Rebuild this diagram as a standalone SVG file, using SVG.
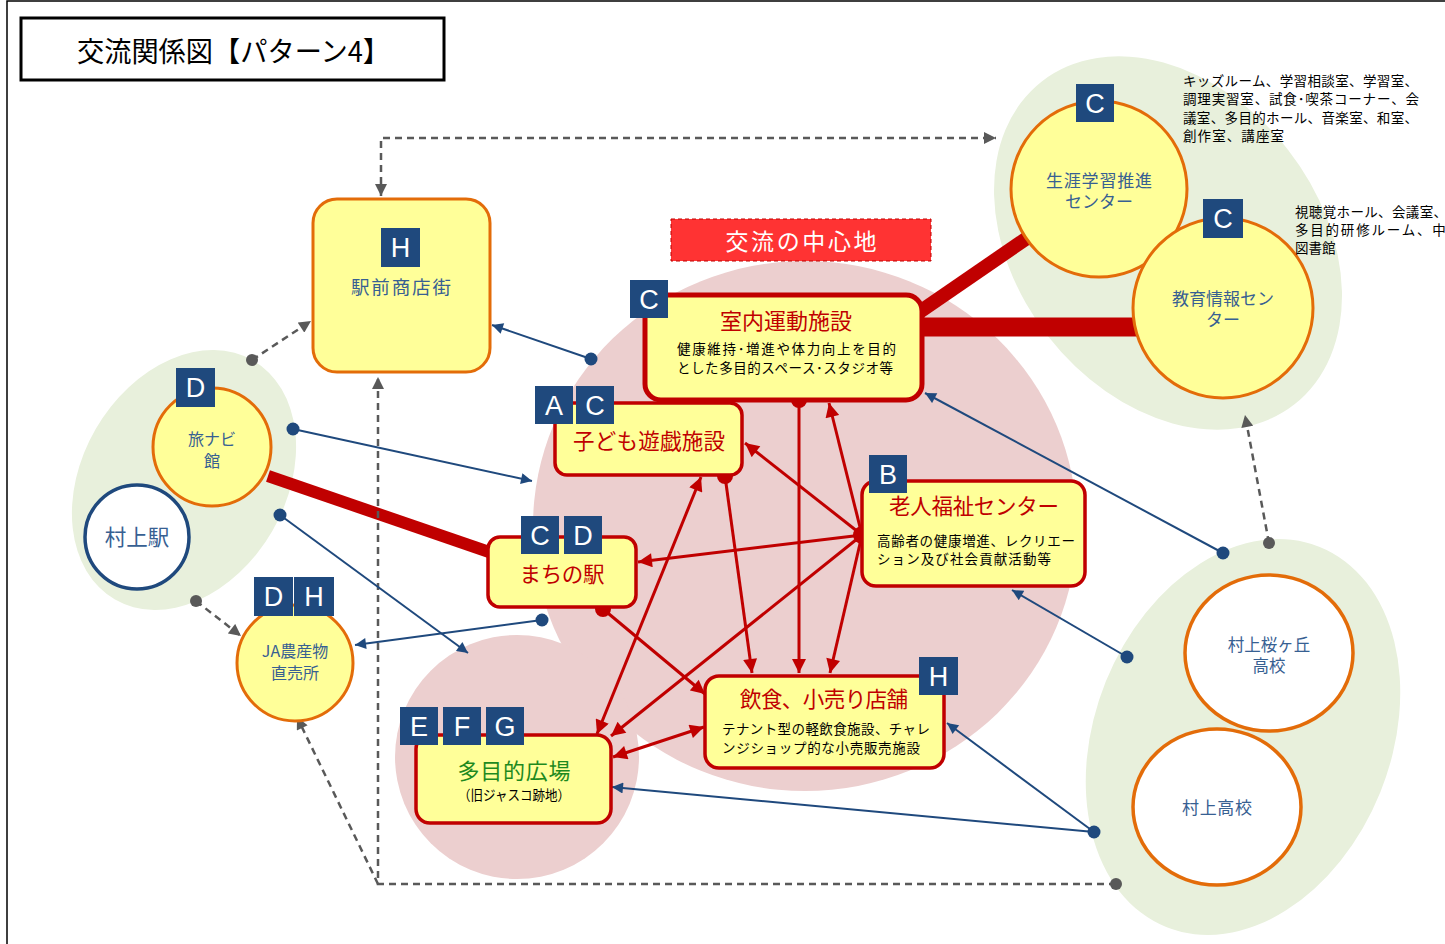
<svg xmlns="http://www.w3.org/2000/svg" width="1445" height="944" viewBox="0 0 1445 944">
<defs>
<style>
.jp{font-family:"Noto Sans CJK JP","Noto Sans",sans-serif}
.badge rect{fill:#1F497D}
.badge text{fill:#fff;font-family:"Liberation Sans",Arial,sans-serif;font-size:27px;text-anchor:middle}
.box{fill:#FFFF99;stroke:#C00000;stroke-width:3.5}
.obox{fill:#FFFF99;stroke:#E36C09;stroke-width:3}
.ycirc{fill:#FFFF99;stroke:#E36C09;stroke-width:3}
.wcirc{fill:#fff;stroke:#E36C09;stroke-width:3.5}
.rt{fill:#C00000;font-size:21.5px;text-anchor:middle}
.sub{fill:#000;font-size:13.5px}
.bt{fill:#376092;font-size:17px;text-anchor:middle}
.side{fill:#000;font-size:13.5px}
.red{stroke:#C00000;stroke-width:3;fill:none}
.blue{stroke:#1F497D;stroke-width:2;fill:none}
.gray{stroke:#595959;stroke-width:2.5;fill:none;stroke-dasharray:7 5}
.thick{stroke:#C00000;fill:none}
</style>
<marker id="ar" viewBox="0 0 10 10" refX="10" refY="5" markerWidth="15" markerHeight="14" markerUnits="userSpaceOnUse" orient="auto"><path d="M0,0 L10,5 L0,10 z" fill="#C00000"/></marker>
<marker id="ars" viewBox="0 0 10 10" refX="0" refY="5" markerWidth="15" markerHeight="14" markerUnits="userSpaceOnUse" orient="auto"><path d="M10,0 L0,5 L10,10 z" fill="#C00000"/></marker>
<marker id="ab" viewBox="0 0 10 10" refX="10" refY="5" markerWidth="13" markerHeight="11" markerUnits="userSpaceOnUse" orient="auto"><path d="M0,0 L10,5 L0,10 z" fill="#1F497D"/></marker>
<marker id="ag" viewBox="0 0 10 10" refX="10" refY="5" markerWidth="13" markerHeight="12" markerUnits="userSpaceOnUse" orient="auto"><path d="M0,0 L10,5 L0,10 z" fill="#595959"/></marker>
<marker id="ags" viewBox="0 0 10 10" refX="0" refY="5" markerWidth="13" markerHeight="12" markerUnits="userSpaceOnUse" orient="auto"><path d="M10,0 L0,5 L10,10 z" fill="#595959"/></marker>
</defs>

<rect x="0" y="0" width="1445" height="944" fill="#fff"/>
<rect x="7" y="1" width="1460" height="960" fill="none" stroke="#000" stroke-width="1.5"/>

<!-- background areas -->
<g id="areas">
<ellipse cx="805" cy="526" rx="272" ry="265" fill="#ECCFCF"/>
<circle cx="517" cy="757" r="122" fill="#ECCFCF"/>
<ellipse cx="184" cy="480" rx="102" ry="138" transform="rotate(30 184 480)" fill="#E8F0DC"/>
<ellipse cx="1168" cy="243" rx="152" ry="205" transform="rotate(-38 1168 243)" fill="#E8F0DC"/>
<ellipse cx="1243" cy="737" rx="148" ry="205" transform="rotate(22 1243 737)" fill="#E8F0DC"/>
</g>

<!-- title -->
<g id="title">
<rect x="21" y="18" width="423" height="62" fill="#fff" stroke="#000" stroke-width="3"/>
<text class="jp" x="77" y="62" font-size="28" textLength="313" lengthAdjust="spacingAndGlyphs" fill="#000">交流関係図【パターン4】</text>
</g>

<g id="center-label">
<rect x="671" y="219" width="260" height="42" fill="#FF3333" stroke="#C00000" stroke-width="1" stroke-dasharray="4 3"/>
<text class="jp" x="801" y="250" font-size="23" fill="#fff" text-anchor="middle" textLength="151" lengthAdjust="spacing">交流の中心地</text>
</g>

<!-- connectors -->
<g id="connectors">
<line class="thick" x1="268" y1="476" x2="492" y2="553" stroke-width="12"/>
<line class="thick" x1="918" y1="313" x2="1030" y2="236" stroke-width="14"/>
<line class="thick" x1="920" y1="327" x2="1138" y2="327" stroke-width="19"/>

<polyline class="gray" points="381,196 381,138 996,138" marker-start="url(#ags)" marker-end="url(#ag)"/>
<line class="gray" x1="252" y1="360" x2="311" y2="321" marker-end="url(#ag)"/>
<circle cx="252" cy="360" r="6" fill="#595959"/>
<line class="gray" x1="196" y1="601" x2="241" y2="636" marker-end="url(#ag)"/>
<circle cx="196" cy="601" r="6" fill="#595959"/>
<line class="gray" x1="1269" y1="543" x2="1245" y2="415" marker-end="url(#ag)"/>
<circle cx="1269" cy="543" r="6" fill="#595959"/>
<polyline class="gray" points="1116,884 378,884 378,377" marker-end="url(#ag)"/>
<line class="gray" x1="378" y1="884" x2="297" y2="717" marker-end="url(#ag)"/>
<circle cx="1116" cy="884" r="6" fill="#595959"/>

<line class="blue" x1="591" y1="359" x2="492" y2="325" marker-end="url(#ab)"/>
<circle cx="591" cy="359" r="6.5" fill="#1F497D"/>
<line class="blue" x1="293" y1="429" x2="532" y2="481" marker-end="url(#ab)"/>
<circle cx="293" cy="429" r="6.5" fill="#1F497D"/>
<line class="blue" x1="280" y1="515" x2="468" y2="653" marker-end="url(#ab)"/>
<circle cx="280" cy="515" r="6.5" fill="#1F497D"/>
<line class="blue" x1="542" y1="620" x2="355" y2="645" marker-end="url(#ab)"/>
<circle cx="542" cy="620" r="6.5" fill="#1F497D"/>
<line class="blue" x1="1223" y1="553" x2="925" y2="393" marker-end="url(#ab)"/>
<circle cx="1223" cy="553" r="6.5" fill="#1F497D"/>
<line class="blue" x1="1127" y1="657" x2="1012" y2="590" marker-end="url(#ab)"/>
<circle cx="1127" cy="657" r="6.5" fill="#1F497D"/>
<line class="blue" x1="1094" y1="832" x2="947" y2="723" marker-end="url(#ab)"/>
<line class="blue" x1="1094" y1="832" x2="612" y2="787" marker-end="url(#ab)"/>
<circle cx="1094" cy="832" r="6.5" fill="#1F497D"/>

<line class="red" x1="799" y1="400" x2="799" y2="673" marker-end="url(#ar)"/>
<circle cx="799" cy="400" r="8" fill="#C00000"/>
<line class="red" x1="725" y1="476" x2="752" y2="673" marker-end="url(#ar)"/>
<line class="red" x1="701" y1="477" x2="597" y2="734" marker-start="url(#ars)" marker-end="url(#ar)"/>
<circle cx="725" cy="476" r="8" fill="#C00000"/>
<line class="red" x1="862" y1="535" x2="829" y2="403" marker-end="url(#ar)"/>
<line class="red" x1="862" y1="535" x2="745" y2="443" marker-end="url(#ar)"/>
<line class="red" x1="862" y1="535" x2="638" y2="562" marker-end="url(#ar)"/>
<line class="red" x1="862" y1="535" x2="830" y2="673" marker-end="url(#ar)"/>
<line class="red" x1="862" y1="535" x2="611" y2="736" marker-end="url(#ar)"/>
<circle cx="862" cy="535" r="9" fill="#C00000"/>
<line class="red" x1="603" y1="609" x2="705" y2="694" marker-end="url(#ar)"/>
<circle cx="603" cy="609" r="8" fill="#C00000"/>
<line class="red" x1="613" y1="757" x2="704" y2="727" marker-start="url(#ars)" marker-end="url(#ar)"/>
</g>

<!-- nodes -->
<g id="ekimae" class="jp">
<rect class="obox" x="313" y="199" width="177" height="173" rx="24"/>
<g class="badge"><rect x="381" y="228" width="39" height="39"/><text x="400.5" y="257">H</text></g>
<text class="bt" x="401" y="294" style="font-size:18.5px" textLength="100" lengthAdjust="spacing">駅前商店街</text>
</g>

<g id="shitsunai" class="jp">
<rect class="box" x="645" y="295" width="277" height="105" rx="16" style="stroke-width:5"/>
<g class="badge"><rect x="630" y="280" width="38" height="38"/><text x="649" y="309">C</text></g>
<text class="rt" x="786" y="329" style="font-size:22px">室内運動施設</text>
<text class="sub" x="677" y="354" textLength="219" lengthAdjust="spacing">健康維持･増進や体力向上を目的</text>
<text class="sub" x="677" y="373" textLength="216" lengthAdjust="spacing">とした多目的スペース･スタジオ等</text>
</g>

<g id="kodomo" class="jp">
<rect class="box" x="555" y="403" width="187" height="72" rx="12"/>
<g class="badge"><rect x="535" y="386" width="38" height="38"/><text x="554" y="415">A</text><rect x="576" y="386" width="38" height="38"/><text x="595" y="415">C</text></g>
<text class="rt" x="649" y="449" textLength="152" lengthAdjust="spacing">子ども遊戯施設</text>
</g>

<g id="roujin" class="jp">
<rect class="box" x="862" y="481" width="223" height="105" rx="14"/>
<g class="badge"><rect x="869" y="455" width="38" height="38"/><text x="888" y="484">B</text></g>
<text class="rt" x="974" y="514" textLength="170" lengthAdjust="spacing">老人福祉センター</text>
<text class="sub" x="877" y="546" textLength="198" lengthAdjust="spacing">高齢者の健康増進、レクリエー</text>
<text class="sub" x="877" y="564" textLength="174" lengthAdjust="spacing">ション及び社会貢献活動等</text>
</g>

<g id="machinoeki" class="jp">
<rect class="box" x="488" y="537" width="148" height="70" rx="12"/>
<g class="badge"><rect x="521" y="516" width="38" height="38"/><text x="540" y="545">C</text><rect x="564" y="516" width="38" height="38"/><text x="583" y="545">D</text></g>
<text class="rt" x="562" y="582" textLength="85" lengthAdjust="spacing">まちの駅</text>
</g>

<g id="inshoku" class="jp">
<rect class="box" x="705" y="676" width="239" height="92" rx="14"/>
<g class="badge"><rect x="919" y="657" width="39" height="38"/><text x="938.5" y="686">H</text></g>
<text class="rt" x="824" y="707" textLength="168" lengthAdjust="spacing">飲食、小売り店舗</text>
<text class="sub" x="722" y="734" textLength="208" lengthAdjust="spacing">テナント型の軽飲食施設、チャレ</text>
<text class="sub" x="722" y="753" textLength="198" lengthAdjust="spacing">ンジショップ的な小売販売施設</text>
</g>

<g id="hiroba" class="jp">
<rect class="box" x="416" y="735" width="195" height="88" rx="14"/>
<g class="badge"><rect x="400" y="707" width="38" height="38"/><text x="419" y="736">E</text><rect x="443" y="707" width="38" height="38"/><text x="462" y="736">F</text><rect x="486" y="707" width="38" height="38"/><text x="505" y="736">G</text></g>
<text x="514" y="779" font-size="22" fill="#1E8A1E" text-anchor="middle" textLength="113" lengthAdjust="spacing">多目的広場</text>
<text x="514" y="800" font-size="14" fill="#000" text-anchor="middle" textLength="112" lengthAdjust="spacingAndGlyphs">（旧ジャスコ跡地）</text>
</g>

<g id="shougai" class="jp">
<circle class="ycirc" cx="1099" cy="189" r="88"/>
<g class="badge"><rect x="1076" y="84" width="38" height="38"/><text x="1095" y="113">C</text></g>
<text class="bt" x="1099" y="187" textLength="106" lengthAdjust="spacing">生涯学習推進</text>
<text class="bt" x="1099" y="208">センター</text>
</g>

<g id="kyouiku" class="jp">
<circle class="ycirc" cx="1223" cy="308" r="90"/>
<g class="badge"><rect x="1203" y="199" width="40" height="39"/><text x="1223" y="228">C</text></g>
<text class="bt" x="1223" y="305" textLength="102" lengthAdjust="spacing">教育情報セン</text>
<text class="bt" x="1223" y="326">ター</text>
</g>

<g id="side-texts" class="jp">
<text class="side" x="1183" y="86" textLength="235" lengthAdjust="spacing">キッズルーム、学習相談室、学習室、</text>
<text class="side" x="1183" y="104" textLength="236" lengthAdjust="spacing">調理実習室、試食･喫茶コーナー、会</text>
<text class="side" x="1183" y="123" textLength="235" lengthAdjust="spacing">議室、多目的ホール、音楽室、和室、</text>
<text class="side" x="1183" y="141" textLength="101" lengthAdjust="spacing">創作室、講座室</text>
<text class="side" x="1295" y="217" textLength="152" lengthAdjust="spacing">視聴覚ホール、会議室、</text>
<text class="side" x="1295" y="235" textLength="166" lengthAdjust="spacing">多目的研修ルーム、中央</text>
<text class="side" x="1295" y="253">図書館</text>
</g>

<g id="tabinavi" class="jp">
<circle class="ycirc" cx="212" cy="447" r="59"/>
<g class="badge"><rect x="176" y="368" width="39" height="39"/><text x="195.5" y="397">D</text></g>
<text class="bt" x="212" y="445" style="font-size:16px">旅ナビ</text>
<text class="bt" x="212" y="467" style="font-size:16px">館</text>
</g>

<g id="murakami-eki" class="jp">
<circle cx="137" cy="537" r="52" fill="#fff" stroke="#1F497D" stroke-width="3.5"/>
<text class="bt" x="137" y="545" style="font-size:21.5px">村上駅</text>
</g>

<g id="ja" class="jp">
<circle class="ycirc" cx="295" cy="663" r="58"/>
<g class="badge"><rect x="254" y="577" width="39" height="39"/><text x="273.5" y="606">D</text><rect x="294" y="577" width="40" height="39"/><text x="314" y="606">H</text></g>
<text class="bt" x="295" y="657" style="font-size:16px">JA農産物</text>
<text class="bt" x="295" y="679" style="font-size:16px">直売所</text>
</g>

<g id="sakuragaoka" class="jp">
<ellipse class="wcirc" cx="1269" cy="653" rx="84" ry="78"/>
<text class="bt" x="1269" y="651" style="font-size:16.5px">村上桜ヶ丘</text>
<text class="bt" x="1269" y="672" style="font-size:16.5px">高校</text>
</g>

<g id="murakami-koukou" class="jp">
<ellipse class="wcirc" cx="1217" cy="807" rx="84" ry="78"/>
<text class="bt" x="1217" y="814" textLength="70" lengthAdjust="spacing">村上高校</text>
</g>
</svg>
